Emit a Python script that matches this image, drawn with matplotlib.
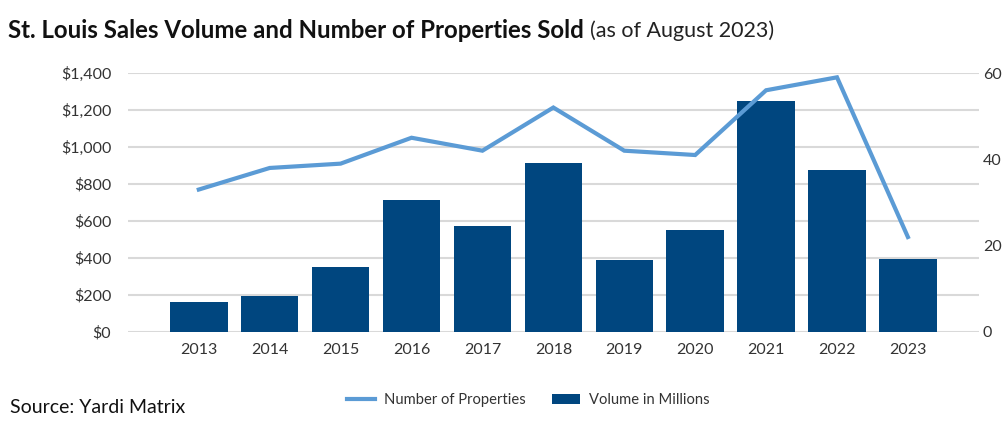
import matplotlib
matplotlib.use("Agg")
import matplotlib.pyplot as plt
from matplotlib.lines import Line2D
from matplotlib.patches import Patch
from matplotlib.ticker import FuncFormatter

plt.rcParams['font.family'] = ['Lato', 'DejaVu Sans']

years = ['2013', '2014', '2015', '2016', '2017', '2018',
         '2019', '2020', '2021', '2022', '2023']
volume = [163, 196, 350, 713, 575, 912, 387, 553, 1247, 877, 396]
properties = [33, 38, 39, 45, 42, 52, 42, 41, 56, 59, 22]

bar_color = '#00467F'
line_color = '#5B9BD5'
grid_color = '#D9D9D9'
text_color = '#333333'

fig = plt.figure(figsize=(10.07, 4.33), dpi=100)
ax = fig.add_axes([0.127, 0.2333, 0.845, 0.5981])
ax2 = ax.twinx()

x = list(range(len(years)))
ax.bar(x, volume, width=0.81, color=bar_color, zorder=3)
ax2.plot(x, properties, color=line_color, linewidth=3, solid_joinstyle='miter')

ax.set_ylim(0, 1400)
ax.set_yticks(range(0, 1401, 200))
ax.yaxis.set_major_formatter(FuncFormatter(lambda v, p: '${:,.0f}'.format(v)))
ax.grid(axis='y', color=grid_color, linewidth=1.5, zorder=0)
ax.set_axisbelow(True)
ax.set_xlim(-1.0, 11.0)
ax.set_xticks(x)
ax.set_xticklabels(years)

ax2.set_ylim(0, 60)
ax2.set_yticks([0, 20, 40, 60])

for a in (ax, ax2):
    for s in a.spines.values():
        s.set_visible(False)
    a.tick_params(length=0, labelsize=11.5, colors=text_color)
ax.tick_params(axis='y', pad=12)
ax.tick_params(axis='x', pad=8)
ax2.tick_params(axis='y', pad=3)

# title in two parts
t1 = fig.text(0.008, 0.93, 'St. Louis Sales Volume and Number of Properties Sold',
              fontsize=17.3, fontweight='bold', color='#111111', va='center')
fig.canvas.draw()
bb = t1.get_window_extent()
fig.text(bb.x1 / fig.bbox.width + 0.006, 0.928, '(as of August 2023)',
         fontsize=15.5, color='#222222', va='center')

fig.text(0.01, 0.058, 'Source: Yardi Matrix', fontsize=14, color='#111111', va='center')

handles = [Line2D([0], [0], color=line_color, linewidth=3),
           Patch(facecolor=bar_color)]
fig.legend(handles, ['Number of Properties', 'Volume in Millions'],
           loc='center', bbox_to_anchor=(0.525, 0.076), ncol=2, frameon=False,
           fontsize=10.6, handlelength=1.9, handletextpad=0.6,
           columnspacing=1.8, labelcolor=text_color)

fig.savefig('out.png', dpi=100, facecolor='white')
